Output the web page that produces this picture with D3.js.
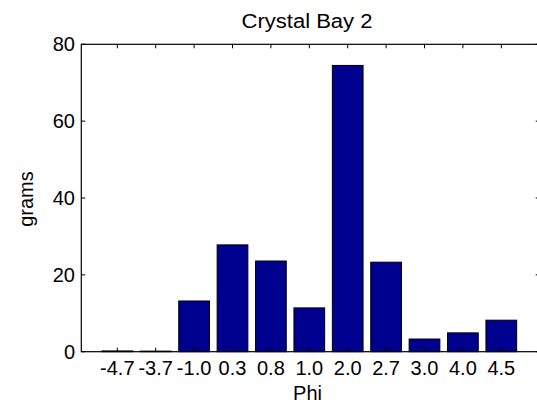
<!DOCTYPE html>
<html lang="en">
<head>
  <meta charset="UTF-8">
  <title>Crystal Bay 2</title>
  <style>
    html, body { margin: 0; padding: 0; background: #fff; }
    svg { display: block; }
    text { font-family: 'Liberation Sans', Arial, sans-serif; fill: #000; }
  </style>
  <script src="https://cdn.jsdelivr.net/npm/d3@7"></script>
</head>
<body>
  <svg id="chart"></svg>
  <script>
    // data
    var phiLabels = ['-4.7', '-3.7', '-1.0', '0.3', '0.8', '1.0', '2.0', '2.7', '3.0', '4.0', '4.5']
    var grams = [0.2, 0.15, 13.2, 27.8, 23.6, 11.4, 74.5, 23.3, 3.3, 4.9, 8.2]
    var yTicks = [0, 20, 40, 60, 80]

    var width = 537, height = 407
    // plot box (right edge falls just outside the window, as in the reference)
    var plotLeft = 81.3, plotRight = 539.7, plotTop = 44.3, plotBottom = 351.7
    var barColor = '#00008f'
    var fontSize = 20

    var svg = d3.select('#chart').attr('width', width).attr('height', height)

    // categories sit at 1..n, like a matlab bar plot
    var x = d3.scaleLinear().domain([0.0625, 12]).range([plotLeft, plotRight])
    var y = d3.scaleLinear().domain([0, 80]).range([plotBottom, plotTop])
    var barW = x(0.8) - x(0)

    // bars
    svg.append('g')
      .selectAll('rect')
      .data(grams)
      .join('rect')
      .attr('x', function (d, i) { return x(i + 1) - barW / 2 })
      .attr('y', function (d) { return y(d) })
      .attr('width', barW)
      .attr('height', function (d) { return y(0) - y(d) })
      .attr('fill', barColor)
      .attr('stroke', '#000')
      .attr('stroke-width', 1)

    // box round the plot
    svg.append('rect')
      .attr('x', plotLeft).attr('y', plotTop)
      .attr('width', plotRight - plotLeft).attr('height', plotBottom - plotTop)
      .attr('fill', 'none')
      .attr('stroke', '#000')
      .attr('stroke-width', 1.2)

    var tickLen = 4

    // x ticks (inward, bottom and top)
    var xIdx = d3.range(1, phiLabels.length + 1)
    var xt = svg.append('g')
    xIdx.forEach(function (v) {
      xt.append('line').attr('x1', x(v)).attr('x2', x(v))
        .attr('y1', plotBottom).attr('y2', plotBottom - tickLen).attr('stroke', '#000')
      xt.append('line').attr('x1', x(v)).attr('x2', x(v))
        .attr('y1', plotTop).attr('y2', plotTop + tickLen).attr('stroke', '#000')
    })
    xt.selectAll('text')
      .data(phiLabels)
      .join('text')
      .attr('x', function (d, i) { return x(i + 1) })
      .attr('y', 375)
      .attr('text-anchor', 'middle')
      .attr('font-size', fontSize)
      .text(function (d) { return d })

    // y ticks (inward, left and right)
    var yt = svg.append('g')
    yTicks.forEach(function (v) {
      yt.append('line').attr('x1', plotLeft).attr('x2', plotLeft + tickLen)
        .attr('y1', y(v)).attr('y2', y(v)).attr('stroke', '#000')
      yt.append('line').attr('x1', plotRight).attr('x2', plotRight - tickLen)
        .attr('y1', y(v)).attr('y2', y(v)).attr('stroke', '#000')
    })
    yt.selectAll('text')
      .data(yTicks)
      .join('text')
      .attr('x', 75)
      .attr('y', function (d) { return y(d) })
      .attr('dy', '0.35em')
      .attr('text-anchor', 'end')
      .attr('font-size', fontSize)
      .text(function (d) { return d })

    // labels
    svg.append('text')
      .attr('x', 307).attr('y', 28)
      .attr('text-anchor', 'middle')
      .attr('font-size', fontSize)
      .attr('textLength', 131)
      .attr('lengthAdjust', 'spacingAndGlyphs')
      .text('Crystal Bay 2')

    svg.append('text')
      .attr('x', 307.5).attr('y', 399.5)
      .attr('text-anchor', 'middle')
      .attr('font-size', fontSize)
      .text('Phi')

    svg.append('text')
      .attr('transform', 'translate(33,199) rotate(-90)')
      .attr('text-anchor', 'middle')
      .attr('font-size', fontSize)
      .text('grams')
  </script>
</body>
</html>
